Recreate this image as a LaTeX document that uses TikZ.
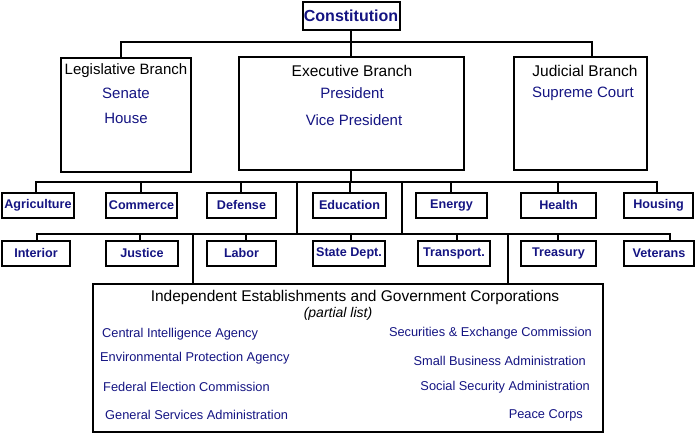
\documentclass[tikz,border=0pt]{standalone}
\usepackage{fontspec}
\setmainfont{Liberation Sans}
\definecolor{nv}{RGB}{20,20,130}
\begin{document}
\begin{tikzpicture}[x=1pt,y=-1pt,
  bx/.style={draw,line width=2pt},
  ln/.style={line width=2pt},
  dept/.style={bx,minimum height=25pt,inner sep=0pt,font=\fontsize{12.6}{14}\selectfont\bfseries,text=nv},
  nt/.style={font=\fontsize{15}{17}\selectfont,text=nv},
  it/.style={font=\fontsize{12.8}{14}\selectfont,text=nv}]
\useasboundingbox (0,0) rectangle (700,437);
\node[bx,minimum width=97pt,minimum height=28pt,inner sep=0pt,font=\fontsize{16}{18}\selectfont\bfseries,text=nv] (con) at (351,16) {Constitution};
\node[bx,minimum width=130pt,minimum height=114pt,inner sep=0pt] (leg) at (126,114.5) {};
\node[bx,minimum width=225pt,minimum height=113pt,inner sep=0pt] (exe) at (351,113.5) {};
\node[bx,minimum width=133pt,minimum height=113pt,inner sep=0pt] (jud) at (580.5,113.5) {};
\node[font=\fontsize{15}{17}\selectfont] at (126,71) {Legislative Branch};
\node[nt] at (126,93) {Senate};
\node[nt] at (126,118) {House};
\node[font=\fontsize{15.5}{17}\selectfont] at (352,71) {Executive Branch};
\node[nt] at (352,93) {President};
\node[nt] at (354,120) {Vice President};
\node[font=\fontsize{15.5}{17}\selectfont] at (585,71) {Judicial Branch};
\node[nt] at (583,94) {Supreme Court};
\foreach \n/\a/\b/\t in {agr/2/74/Agriculture,com/106/177/Commerce,def/207/276/Defense,edu/313/386/Education,ene/416/487/Energy,hea/521/596/Health,hou/624/693/Housing}
  \node[dept,minimum width=\b-\a] (\n) at ({(\a+\b)/2},205) {\t};
\foreach \n/\a/\b/\t in {int/2/70/Interior,jus/106/178/Justice,lab/207/276/Labor,sta/313/385/State Dept.,tra/418/490/Transport.,tre/521/596/Treasury,vet/624/694/Veterans}
  \node[dept,minimum width=\b-\a] (\n) at ({(\a+\b)/2},253) {\t};
\node[bx,minimum width=510pt,minimum height=148pt,inner sep=0pt] (ind) at (348,358) {};
\coordinate (b1) at (351,42);
\draw[ln] (con.south) -- (b1);
\draw[ln] (leg.north -| 121,0) |- (b1) -| (jud.north -| 592,0);
\draw[ln] (b1) -- (exe.north);
\coordinate (u) at (351,182);
\draw[ln] (exe.south) -- (u);
\draw[ln] (agr.north -| 36,0) |- (36,182) -- (657,182) -- (hou.north -| 657,0);
\foreach \n/\x in {com/141,def/241,edu/350,ene/451,hea/558} \draw[ln] (\x,182) -- (\n.north -| \x,0);
\draw[ln] (297,182) -- (297,234);
\draw[ln] (402,182) -- (402,234);
\draw[ln] (int.north -| 37,0) |- (37,234) -- (670,234) -- (vet.north -| 670,0);
\foreach \n/\x in {jus/140,lab/246,sta/351,tra/457,tre/558} \draw[ln] (\x,234) -- (\n.north -| \x,0);
\draw[ln] (193,234) -- (ind.north -| 193,0);
\draw[ln] (508,234) -- (ind.north -| 508,0);
\node[font=\fontsize{15.5}{17}\selectfont] at (355,297) {Independent Establishments and Government Corporations};
\node[font=\fontsize{14}{16}\selectfont\itshape] at (338,314) {(partial list)};
\node[it,anchor=west,inner sep=0pt] at (102,334) {Central Intelligence Agency};
\node[it,anchor=west,inner sep=0pt] at (100,358) {Environmental Protection Agency};
\node[it,anchor=west,inner sep=0pt] at (103,387) {Federal Election Commission};
\node[it,anchor=west,inner sep=0pt] at (105,415) {General Services Administration};
\node[it,anchor=east,inner sep=0pt] at (592,333) {Securities \& Exchange Commission};
\node[it,anchor=east,inner sep=0pt] at (586,361) {Small Business Administration};
\node[it,anchor=east,inner sep=0pt] at (590,387) {Social Security Administration};
\node[it,anchor=east,inner sep=0pt] at (583,415) {Peace Corps};
\end{tikzpicture}
\end{document}
